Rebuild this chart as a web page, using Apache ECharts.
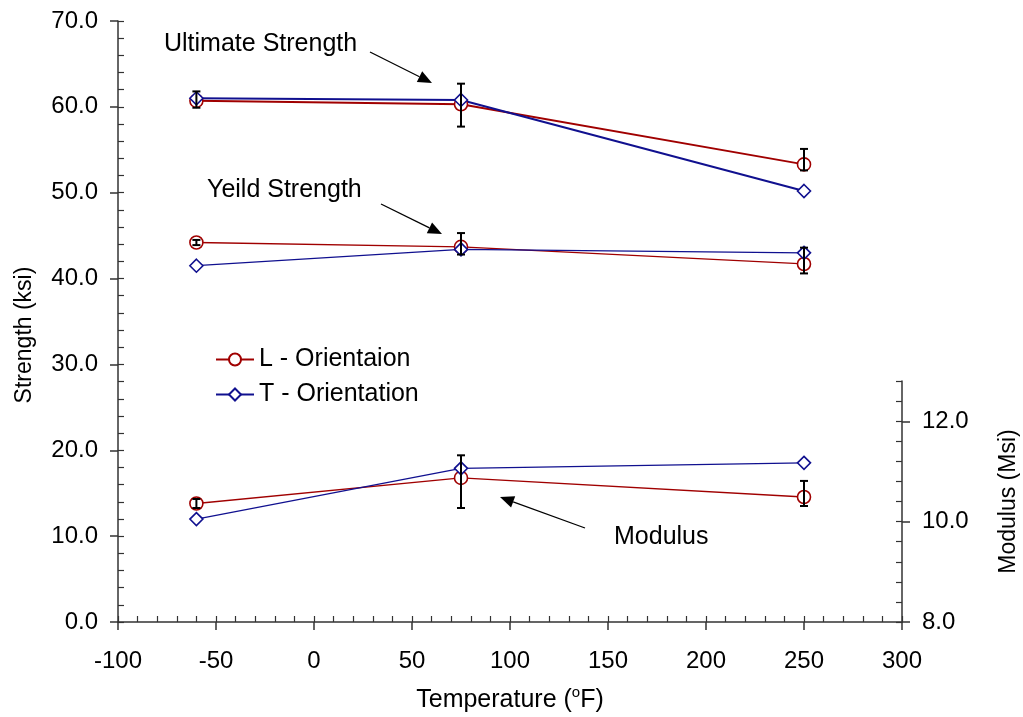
<!DOCTYPE html>
<html>
<head>
<meta charset="utf-8">
<title>Strength and Modulus vs Temperature</title>
<script src="https://cdn.jsdelivr.net/npm/echarts@6/dist/echarts.min.js"></script>
<style>
  html, body { margin: 0; padding: 0; background: #fff; }
  #chart { width: 1023px; height: 717px; }
</style>
</head>
<body>
<div id="chart"></div>
<script>
// ---- data ----
const temperatures = [-60, 75, 250];

const ultimateL = [60.7, 60.3, 53.3];
const ultimateT = [61.0, 60.8, 50.2];
const ultimateLHigh = [61.8, 62.7, 55.1];
const ultimateLLow = [59.9, 57.7, 52.6];

const yieldL = [44.2, 43.7, 41.7];
const yieldT = [41.5, 43.4, 43.0];
const yieldLHigh = [44.5, 45.3, 43.6];
const yieldLLow = [43.9, 42.8, 40.6];

const modulusL = [10.36, 10.87, 10.49];
const modulusT = [10.05, 11.06, 11.17];
const modulusLHigh = [10.45, 11.32, 10.81];
const modulusLLow = [10.27, 10.27, 10.31];

const tempTicks = [-100, -50, 0, 50, 100, 150, 200, 250, 300];
const strengthTicks = [0, 10, 20, 30, 40, 50, 60, 70];
const modulusTicks = [8, 10, 12];

const nameL = 'L - Orientaion';
const nameT = 'T - Orientation';

// ---- layout / style ----
const FONT = '"Liberation Sans", Arial, sans-serif';
const RED = '#a00000';
const BLUE = '#10108f';
const AXIS_COLOR = '#333';
const PLOT = { left: 118, right: 1023 - 902, top: 21, bottom: 717 - 622, outerBoundsMode: 'none', containLabel: false };
const MOD_TOP = 381;      // top of the modulus scale (12.8 Msi)
const MOD_TICK_TOP = 422; // 12.0 Msi

const pairs = (xs, ys) => xs.map((x, i) => [x, ys[i]]);
const bars = (xs, hi, lo) => xs.map((x, i) => [x, hi[i], lo[i]]);
const isTick = (list, v) => list.some(t => Math.abs(t - v) < 1e-6);

function errorBarItem(params, api) {
  const x = api.value(0);
  const hi = api.coord([x, api.value(1)]);
  const lo = api.coord([x, api.value(2)]);
  const half = 4;
  const style = { stroke: '#000', lineWidth: 2 };
  return {
    type: 'group',
    children: [
      { type: 'line', shape: { x1: hi[0], y1: hi[1], x2: lo[0], y2: lo[1] }, style },
      { type: 'line', shape: { x1: hi[0] - half, y1: hi[1], x2: hi[0] + half, y2: hi[1] }, style },
      { type: 'line', shape: { x1: lo[0] - half, y1: lo[1], x2: lo[0] + half, y2: lo[1] }, style }
    ]
  };
}

function lineSeries(name, data, color, symbol, width, xi, yi) {
  return {
    name, type: 'line', data, xAxisIndex: xi, yAxisIndex: yi,
    symbol, symbolSize: 13, showSymbol: true,
    color,
    lineStyle: { color, width },
    itemStyle: { color: '#fff', borderColor: color, borderWidth: 1.6 },
    emphasis: { disabled: true },
    clip: false, z: 2, animation: false
  };
}

function errorSeries(data, xi, yi) {
  return {
    type: 'custom', data, xAxisIndex: xi, yAxisIndex: yi,
    renderItem: errorBarItem, encode: { x: 0, y: [1, 2] },
    clip: false, z: 4, animation: false, silent: true
  };
}

// annotation text + arrow
const notes = [
  { text: 'Ultimate Strength', x: 164, y: 44, from: [370, 52], to: [432, 83] },
  { text: 'Yeild Strength', x: 207, y: 190, from: [381, 204], to: [442, 234] },
  { text: 'Modulus', x: 614, y: 537, from: [585, 528], to: [500, 497] }
];

function arrowGraphics(n) {
  const dx = n.to[0] - n.from[0], dy = n.to[1] - n.from[1];
  const len = Math.hypot(dx, dy);
  const ux = dx / len, uy = dy / len;
  const L = 14, W = 6;
  const bx = n.to[0] - ux * L, by = n.to[1] - uy * L;
  return [
    { type: 'line', shape: { x1: n.from[0], y1: n.from[1], x2: bx, y2: by },
      style: { stroke: '#000', lineWidth: 1.3 } },
    { type: 'polygon', shape: { points: [n.to, [bx - uy * W, by + ux * W], [bx + uy * W, by - ux * W]] },
      style: { fill: '#000' } },
    { type: 'text', x: n.x, y: n.y,
      style: { text: n.text, font: '25px ' + FONT, fill: '#000', textAlign: 'left', textVerticalAlign: 'middle' } }
  ];
}

const tickLabel = { color: '#000', fontFamily: FONT, fontSize: 24 };
const innerTick = { show: true, inside: true, length: 6, lineStyle: { color: AXIS_COLOR, width: 1.2 } };
const outerTick = { show: true, inside: false, length: 8, lineStyle: { color: AXIS_COLOR, width: 1.5 } };
const mainLine = { show: true, onZero: false, lineStyle: { color: AXIS_COLOR, width: 1.5 } };
const noLine = { show: false, onZero: false };

const option = {
  backgroundColor: '#fff',
  animation: false,
  textStyle: { fontFamily: FONT },
  grid: [
    { ...PLOT },                                 // strength
    { ...PLOT, top: MOD_TOP },                   // modulus
    { ...PLOT },                                 // strength outer ticks
    { ...PLOT, top: MOD_TICK_TOP }               // modulus outer ticks
  ],
  xAxis: [
    {
      gridIndex: 0, type: 'value', min: -100, max: 300, interval: 10,
      axisLine: mainLine, axisTick: innerTick,
      axisLabel: { ...tickLabel, margin: 27, formatter: v => isTick(tempTicks, v) ? String(v) : '' },
      splitLine: { show: false },
      name: 'Temperature ({sup|o}F)', nameLocation: 'middle', nameGap: 63,
      nameTextStyle: {
        color: '#000', fontFamily: FONT, fontSize: 25, lineHeight: 30,
        rich: { sup: { fontSize: 15, verticalAlign: 'top', lineHeight: 12, padding: [0, 0, 4, 0], color: '#000', fontFamily: FONT } }
      }
    },
    { gridIndex: 1, type: 'value', min: -100, max: 300, show: false, axisLine: noLine },
    {
      gridIndex: 2, type: 'value', min: -100, max: 300, interval: 50,
      axisLine: noLine, axisTick: outerTick,
      axisLabel: { show: false }, splitLine: { show: false }
    },
    { gridIndex: 3, type: 'value', min: -100, max: 300, show: false, axisLine: noLine }
  ],
  yAxis: [
    {
      gridIndex: 0, type: 'value', position: 'left', min: 0, max: 70, interval: 2,
      axisLine: mainLine, axisTick: innerTick,
      axisLabel: { ...tickLabel, margin: 20, formatter: v => isTick(strengthTicks, v) ? v.toFixed(1) : '' },
      splitLine: { show: false }
    },
    {
      gridIndex: 1, type: 'value', position: 'right', min: 8, max: 12.8, interval: 0.4,
      axisLine: mainLine, axisTick: innerTick,
      axisLabel: { ...tickLabel, margin: 20, formatter: v => isTick(modulusTicks, v) ? v.toFixed(1) : '' },
      splitLine: { show: false },
      name: 'Modulus (Msi)', nameLocation: 'middle', nameGap: 95, nameRotate: 90,
      nameTextStyle: { color: '#000', fontFamily: FONT, fontSize: 23 }
    },
    {
      gridIndex: 2, type: 'value', position: 'left', min: 0, max: 70, interval: 10,
      axisLine: noLine, axisTick: outerTick,
      axisLabel: { show: false }, splitLine: { show: false }
    },
    {
      gridIndex: 3, type: 'value', position: 'right', min: 8, max: 12, interval: 2,
      axisLine: noLine, axisTick: outerTick,
      axisLabel: { show: false }, splitLine: { show: false }
    }
  ],
  legend: {
    data: [nameL, nameT],
    orient: 'vertical', left: 210, top: 342,
    itemWidth: 38, itemHeight: 15, itemGap: 10,
    textStyle: { color: '#000', fontFamily: FONT, fontSize: 25, lineHeight: 25 },
    selectedMode: false
  },
  series: [
    lineSeries(nameL, pairs(temperatures, ultimateL), RED, 'circle', 2, 0, 0),
    lineSeries(nameT, pairs(temperatures, ultimateT), BLUE, 'diamond', 2, 0, 0),
    lineSeries(nameL, pairs(temperatures, yieldL), RED, 'circle', 1.3, 0, 0),
    lineSeries(nameT, pairs(temperatures, yieldT), BLUE, 'diamond', 1.3, 0, 0),
    lineSeries(nameL, pairs(temperatures, modulusL), RED, 'circle', 1.3, 1, 1),
    lineSeries(nameT, pairs(temperatures, modulusT), BLUE, 'diamond', 1.3, 1, 1),
    errorSeries(bars(temperatures, ultimateLHigh, ultimateLLow), 0, 0),
    errorSeries(bars(temperatures, yieldLHigh, yieldLLow), 0, 0),
    errorSeries(bars(temperatures, modulusLHigh, modulusLLow), 1, 1)
  ],
  graphic: [
    { type: 'text', x: 25, y: 335, rotation: Math.PI / 2,
      style: { text: 'Strength (ksi)', font: '23px ' + FONT, fill: '#000', textAlign: 'center', textVerticalAlign: 'middle' } },
    ...notes.flatMap(arrowGraphics)
  ]
};

const chart = echarts.init(document.getElementById('chart'), null, { renderer: 'canvas' });
chart.setOption(option);
</script>
</body>
</html>
